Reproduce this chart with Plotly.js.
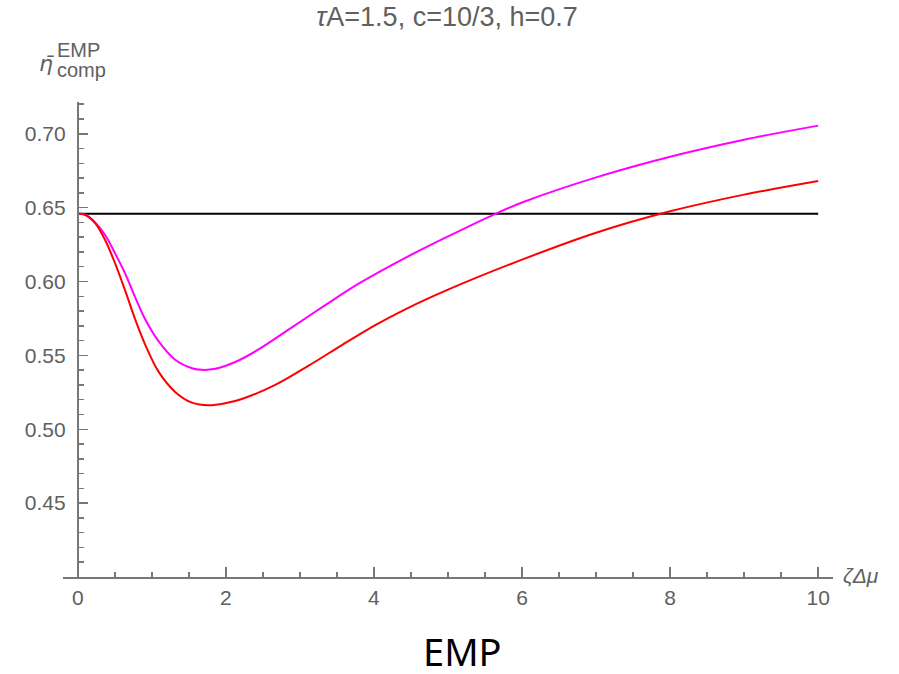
<!DOCTYPE html>
<html>
<head>
<meta charset="utf-8">
<script src="https://cdn.plot.ly/plotly-3.0.1.min.js"></script>
<style>
  html, body { margin: 0; padding: 0; background: #fff; }
  #chart { width: 899px; height: 674px; }
</style>
</head>
<body>
<div id="chart"></div>
<script>
// efficiency curves versus ζΔμ
const zetaMagenta = [0, 0.099, 0.234, 0.369, 0.505, 0.640, 0.775, 0.910, 1.090, 1.315, 1.541, 1.676, 1.856, 2.126, 2.441, 2.892, 3.342, 3.793, 4.423, 5.0, 5.64, 6.0, 7.0, 8.0, 9.0, 10.0];
const etaMagenta  = [0.6458, 0.6452, 0.6400, 0.6315, 0.6189, 0.6053, 0.5893, 0.5744, 0.5596, 0.5470, 0.5413, 0.5402, 0.5409, 0.5455, 0.5540, 0.5690, 0.5840, 0.5985, 0.6160, 0.6305, 0.6458, 0.6535, 0.6705, 0.6845, 0.6960, 0.7055];

const zetaRed = [0, 0.099, 0.234, 0.369, 0.505, 0.640, 0.775, 0.910, 1.090, 1.315, 1.541, 1.766, 1.991, 2.216, 2.667, 3.117, 3.568, 4.018, 4.423, 5.0, 6.0, 7.0, 8.0, 9.0, 10.0];
const etaRed  = [0.6458, 0.6452, 0.6395, 0.6281, 0.6121, 0.5938, 0.5744, 0.5573, 0.5390, 0.5253, 0.5180, 0.5162, 0.5176, 0.5205, 0.5300, 0.5430, 0.5570, 0.5705, 0.5812, 0.5945, 0.6148, 0.6330, 0.6475, 0.6588, 0.6680];

// reference level (value at ζΔμ = 0)
const zetaRef = [0, 10];
const etaRef  = [0.6458, 0.6458];

const xTickVals = [0, 2, 4, 6, 8, 10];
const xTickText = ['0', '2', '4', '6', '8', '10'];
const yTickVals = [0.45, 0.50, 0.55, 0.60, 0.65, 0.70];
const yTickText = ['0.45', '0.50', '0.55', '0.60', '0.65', '0.70'];

const W = 899, H = 674;
const margin = {l: 63, r: 66, t: 102, b: 97};
const xRange = [-0.2, 10.2];
const yRange = [0.40, 0.7215];
const plotW = W - margin.l - margin.r;
const plotH = H - margin.t - margin.b;
// pixel -> paper helpers for text placement
const px = p => (p - margin.l) / plotW;
const py = p => (H - margin.b - p) / plotH;

const labelGray = '#606060';
const axisGray = '#777777';
const tickFont = {family: 'Liberation Sans, Arial, sans-serif', size: 21, color: labelGray};

const traces = [
  {x: zetaRef, y: etaRef, mode: 'lines', line: {color: '#000000', width: 2}, hoverinfo: 'skip'},
  {x: zetaMagenta, y: etaMagenta, mode: 'lines', line: {color: '#ff00ff', width: 2, shape: 'spline', smoothing: 0.9}},
  {x: zetaRed, y: etaRed, mode: 'lines', line: {color: '#ff0000', width: 2, shape: 'spline', smoothing: 0.9}}
];

const layout = {
  width: W, height: H,
  margin: margin,
  paper_bgcolor: '#ffffff',
  plot_bgcolor: '#ffffff',
  showlegend: false,
  title: {
    text: '<i>τ</i>A=1.5, c=10/3, h=0.7',
    x: 447 / W, xanchor: 'center',
    y: 1 - 17 / H, yanchor: 'middle',
    font: {family: 'Liberation Sans, Arial, sans-serif', size: 27, color: labelGray}
  },
  xaxis: {
    range: xRange,
    showgrid: false, zeroline: false,
    showline: true, linecolor: axisGray, linewidth: 2,
    tickmode: 'array', tickvals: xTickVals, ticktext: xTickText,
    ticks: 'inside', ticklen: 10, tickwidth: 1.5, tickcolor: axisGray,
    ticklabelstandoff: 1,
    tickfont: tickFont,
    minor: {dtick: 0.5, tick0: 0, ticks: 'inside', ticklen: 5, tickwidth: 1.5, tickcolor: axisGray, showgrid: false}
  },
  yaxis: {
    range: yRange,
    anchor: 'free', position: (0 - xRange[0]) / (xRange[1] - xRange[0]),
    showgrid: false, zeroline: false,
    showline: true, linecolor: axisGray, linewidth: 2,
    tickmode: 'array', tickvals: yTickVals, ticktext: yTickText,
    ticks: 'inside', ticklen: 9, tickwidth: 1.5, tickcolor: axisGray,
    ticklabelstandoff: 7,
    tickfont: tickFont,
    minor: {dtick: 0.01, tick0: 0.40, ticks: 'inside', ticklen: 5, tickwidth: 1.5, tickcolor: axisGray, showgrid: false}
  },
  annotations: [
    {text: '<i>η̄</i>', xref: 'paper', yref: 'paper', x: px(46), y: py(64), xanchor: 'center', yanchor: 'middle', showarrow: false,
     font: {family: 'DejaVu Sans, sans-serif', size: 22, color: labelGray}},
    {text: 'EMP', xref: 'paper', yref: 'paper', x: px(55), y: py(50), xanchor: 'left', yanchor: 'middle', showarrow: false,
     font: {family: 'Liberation Sans, Arial, sans-serif', size: 20, color: labelGray}},
    {text: 'comp', xref: 'paper', yref: 'paper', x: px(55), y: py(70), xanchor: 'left', yanchor: 'middle', showarrow: false,
     font: {family: 'Liberation Sans, Arial, sans-serif', size: 20, color: labelGray}},
    {text: '<i>ζΔμ</i>', xref: 'paper', yref: 'paper', x: px(841), y: py(575), xanchor: 'left', yanchor: 'middle', showarrow: false,
     font: {family: 'Liberation Sans, Arial, sans-serif', size: 21, color: labelGray}},
    {text: 'EMP', xref: 'paper', yref: 'paper', x: px(463), y: py(651), xanchor: 'center', yanchor: 'middle', showarrow: false,
     font: {family: 'Noto Sans, Open Sans, sans-serif', size: 38, color: '#000000'}}
  ]
};

Plotly.newPlot('chart', traces, layout, {displayModeBar: false, staticPlot: true});
</script>
</body>
</html>
